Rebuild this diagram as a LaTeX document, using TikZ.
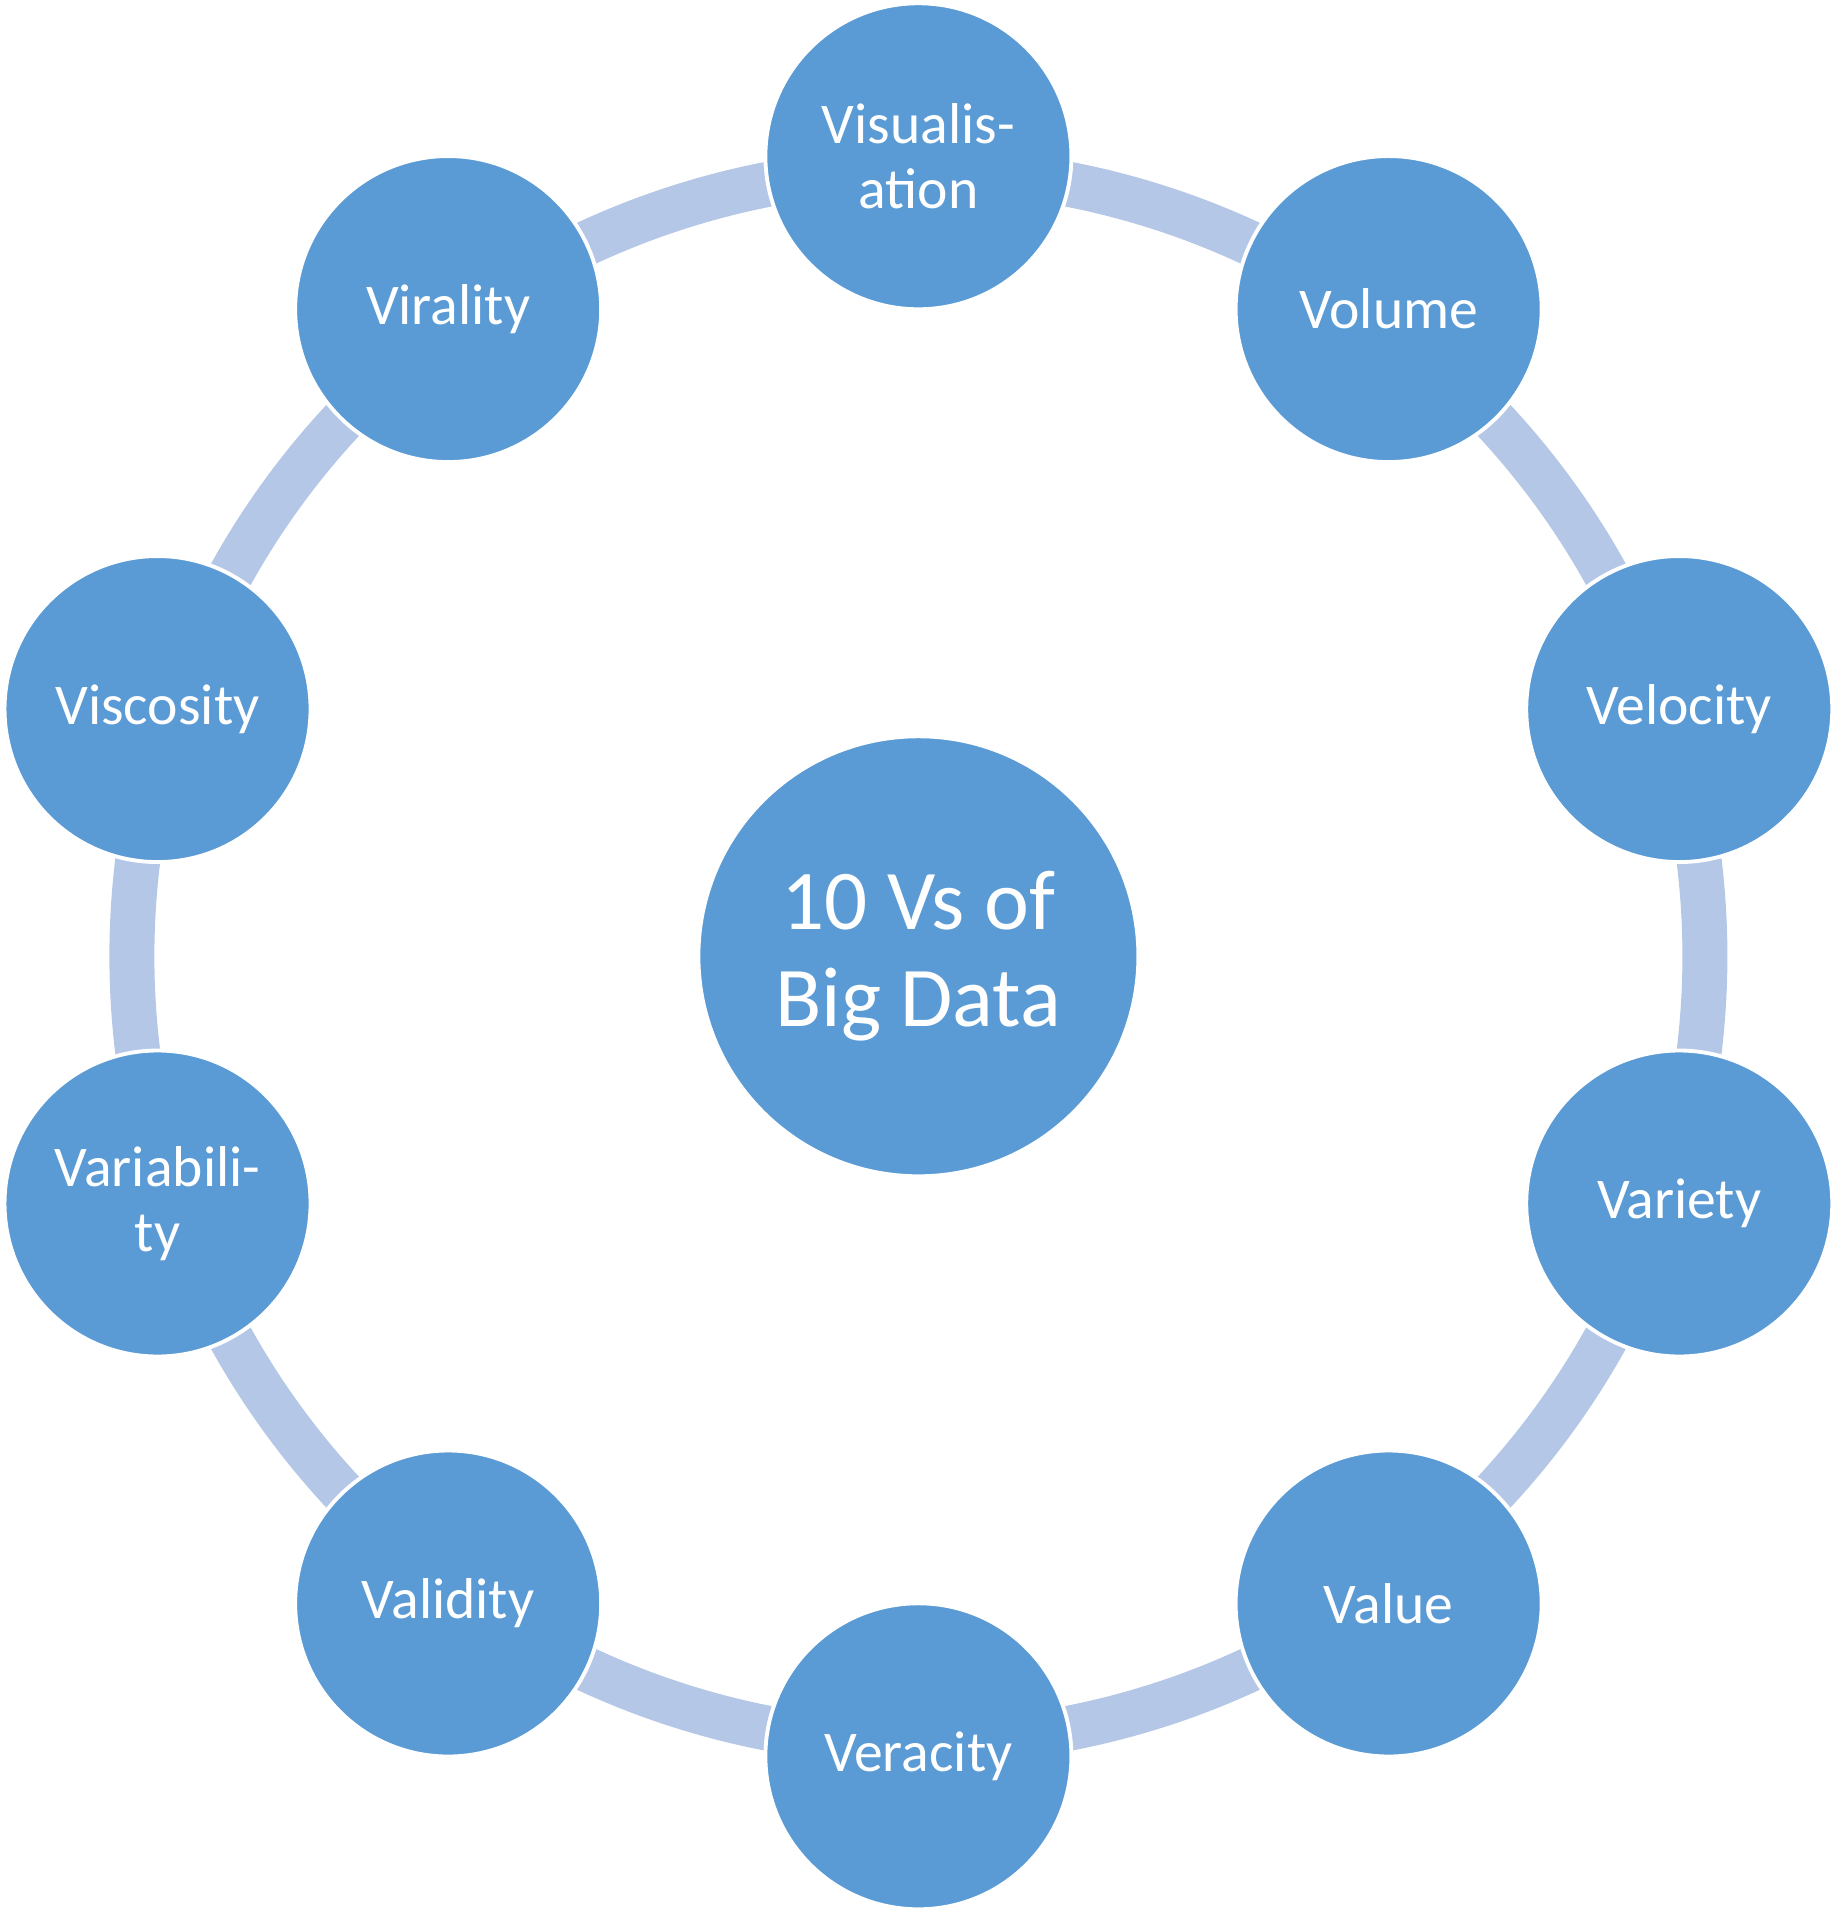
\documentclass[tikz,border=0pt]{standalone}
\usepackage{fontspec}
\setmainfont{Carlito}
\usetikzlibrary{backgrounds}
\definecolor{vblue}{HTML}{5B9BD5}
\definecolor{vband}{HTML}{B4C7E7}

\begin{document}
\begin{tikzpicture}[
  vcirc/.style={circle, fill=vblue, draw=white, line width=1.1pt, minimum size=3.06cm, inner sep=0pt, align=center, text=white, font=\fontsize{16.4}{18.4}\selectfont},
  hub/.style={vcirc, minimum size=4.4cm, font=\fontsize{24.2}{27.5}\selectfont},
  band/.style={draw=vband, line width=0.45cm}
]
  \useasboundingbox (-9.184,-9.587) rectangle (9.196,9.563);

  \node[hub] (hub) at (0,0) {10 Vs of\\Big Data};
  \node[vcirc] (vis)  at (90:8)   {Visualis-\\ation};
  \node[vcirc] (vol)  at (54:8)   {Volume};
  \node[vcirc] (vel)  at (18:8)   {Velocity};
  \node[vcirc] (vty)  at (-18:8)  {Variety};
  \node[vcirc] (val)  at (-54:8)  {Value};
  \node[vcirc] (ver)  at (-90:8)  {Veracity};
  \node[vcirc] (vld)  at (-126:8) {Validity};
  \node[vcirc] (vbl)  at (-162:8) {Variabili-\\ty};
  \node[vcirc] (vsc)  at (162:8)  {Viscosity};
  \node[vcirc] (vir)  at (126:8)  {Virality};

  % ring segments behind the circles (ring sits a little inside the node centres)
  \begin{scope}[on background layer]
    \draw[band] (vis.center) ++(-90:0.135) arc[start angle=90, end angle=54, radius=7.865];
    \draw[band] (vol.center) ++(-126:0.135) arc[start angle=54, end angle=18, radius=7.865];
    \draw[band] (vel.center) ++(-162:0.135) arc[start angle=18, end angle=-18, radius=7.865];
    \draw[band] (vty.center) ++(162:0.135) arc[start angle=-18, end angle=-54, radius=7.865];
    \draw[band] (val.center) ++(126:0.135) arc[start angle=-54, end angle=-90, radius=7.865];
    \draw[band] (ver.center) ++(90:0.135) arc[start angle=-90, end angle=-126, radius=7.865];
    \draw[band] (vld.center) ++(54:0.135) arc[start angle=-126, end angle=-162, radius=7.865];
    \draw[band] (vbl.center) ++(18:0.135) arc[start angle=-162, end angle=-198, radius=7.865];
    \draw[band] (vsc.center) ++(-18:0.135) arc[start angle=162, end angle=126, radius=7.865];
    \draw[band] (vir.center) ++(-54:0.135) arc[start angle=126, end angle=90, radius=7.865];
  \end{scope}
\end{tikzpicture}
\end{document}
